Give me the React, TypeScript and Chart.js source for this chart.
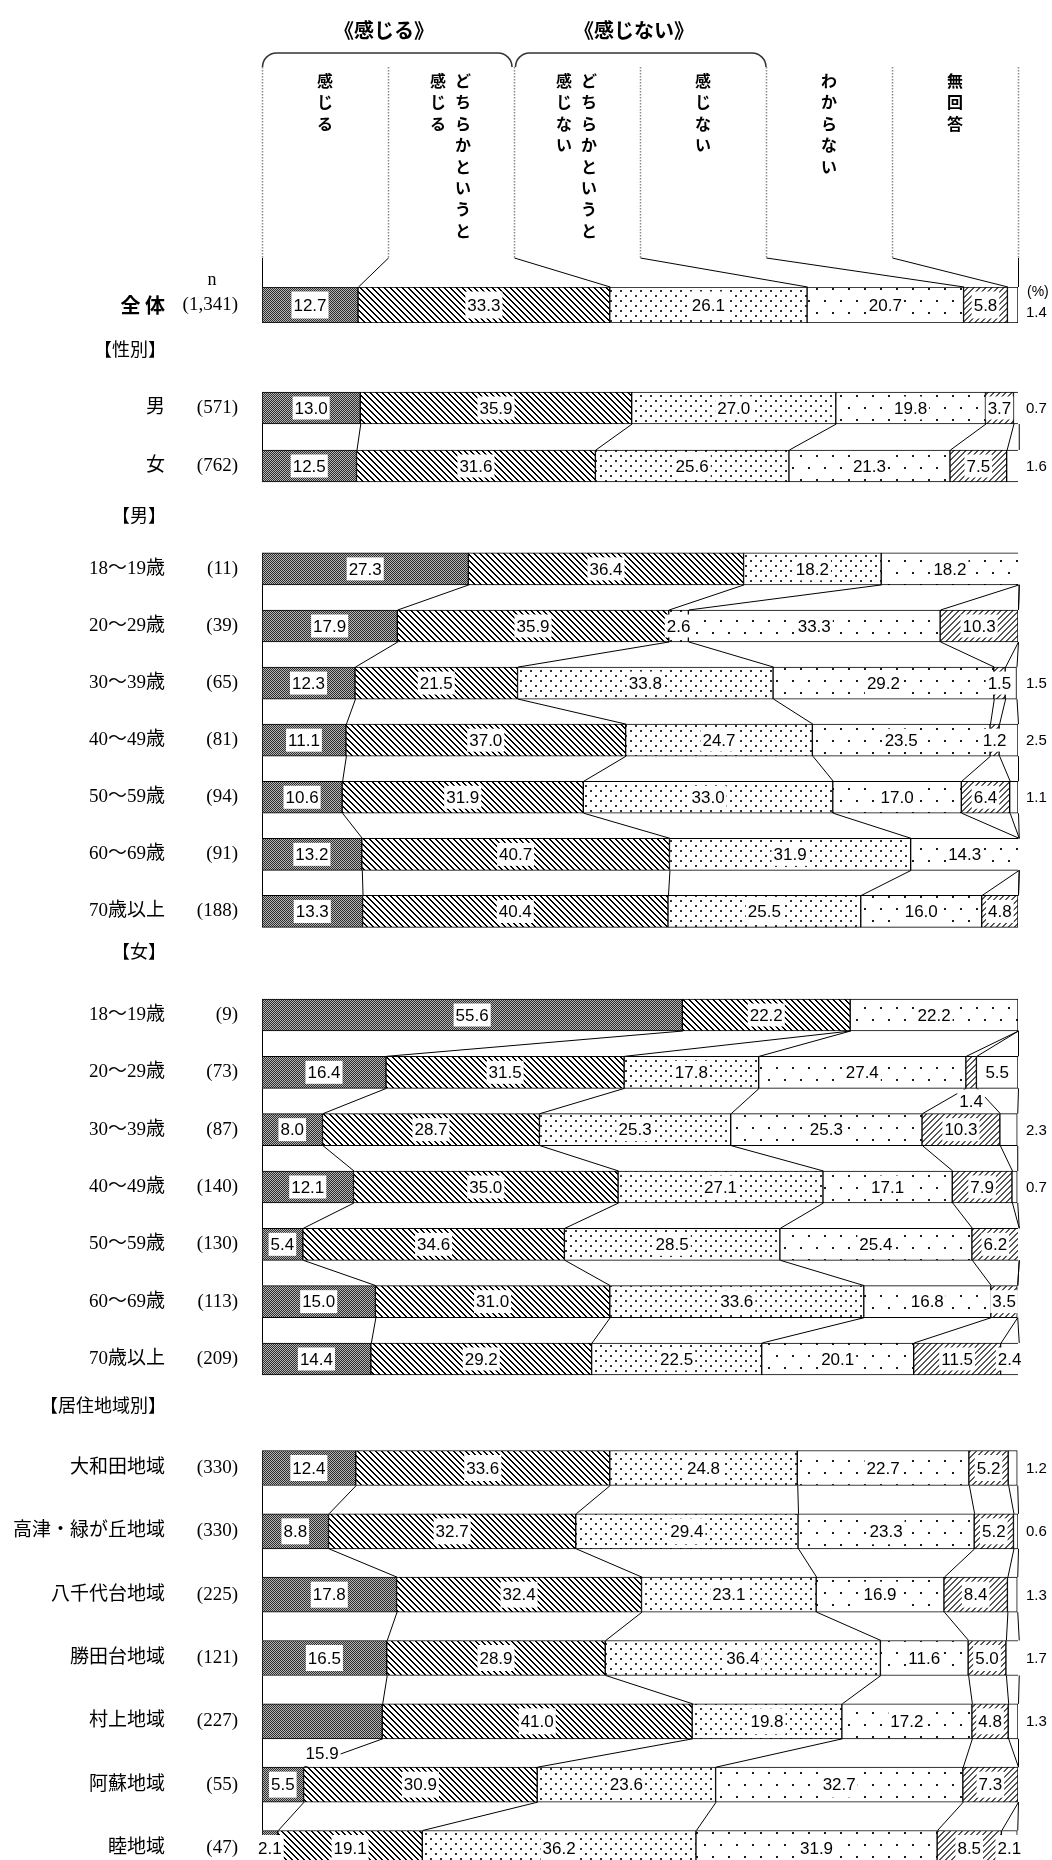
import React, { useEffect, useRef } from "react";
import { Chart, registerables } from "chart.js";

Chart.register(...registerables);

// ---------------- DATA ----------------
const segmentNames = [
  "感じる",
  "どちらかというと感じる",
  "どちらかというと感じない",
  "感じない",
  "わからない",
  "無回答",
];

const headerTitles = ["《感じる》", "《感じない》"];
// column captions (vertical text, right line first)
const columnCaptions = [
  ["感じる"],
  ["どちらかというと", "感じる"],
  ["どちらかというと", "感じない"],
  ["感じない"],
  ["わからない"],
  ["無回答"],
];

const totalNames = ["全 体"];
const totalN = ["(1,341)"];
const totalValues = [[12.7, 33.3, 26.1, 20.7, 5.8, 1.4]];

const genderNames = ["男", "女"];
const genderN = ["(571)", "(762)"];
const genderValues = [
  [13.0, 35.9, 27.0, 19.8, 3.7, 0.7],
  [12.5, 31.6, 25.6, 21.3, 7.5, 1.6],
];

const ageNames = ["18～19歳", "20～29歳", "30～39歳", "40～49歳", "50～59歳", "60～69歳", "70歳以上"];
const maleN = ["(11)", "(39)", "(65)", "(81)", "(94)", "(91)", "(188)"];
const maleValues = [
  [27.3, 36.4, 18.2, 18.2, 0, 0],
  [17.9, 35.9, 2.6, 33.3, 10.3, 0],
  [12.3, 21.5, 33.8, 29.2, 1.5, 1.5],
  [11.1, 37.0, 24.7, 23.5, 1.2, 2.5],
  [10.6, 31.9, 33.0, 17.0, 6.4, 1.1],
  [13.2, 40.7, 31.9, 14.3, 0, 0],
  [13.3, 40.4, 25.5, 16.0, 4.8, 0],
];
const femaleN = ["(9)", "(73)", "(87)", "(140)", "(130)", "(113)", "(209)"];
const femaleValues = [
  [55.6, 22.2, 0, 22.2, 0, 0],
  [16.4, 31.5, 17.8, 27.4, 1.4, 5.5],
  [8.0, 28.7, 25.3, 25.3, 10.3, 2.3],
  [12.1, 35.0, 27.1, 17.1, 7.9, 0.7],
  [5.4, 34.6, 28.5, 25.4, 6.2, 0],
  [15.0, 31.0, 33.6, 16.8, 3.5, 0],
  [14.4, 29.2, 22.5, 20.1, 11.5, 2.4],
];

const regionNames = ["大和田地域", "高津・緑が丘地域", "八千代台地域", "勝田台地域", "村上地域", "阿蘇地域", "睦地域"];
const regionN = ["(330)", "(330)", "(225)", "(121)", "(227)", "(55)", "(47)"];
const regionValues = [
  [12.4, 33.6, 24.8, 22.7, 5.2, 1.2],
  [8.8, 32.7, 29.4, 23.3, 5.2, 0.6],
  [17.8, 32.4, 23.1, 16.9, 8.4, 1.3],
  [16.5, 28.9, 36.4, 11.6, 5.0, 1.7],
  [15.9, 41.0, 19.8, 17.2, 4.8, 1.3],
  [5.5, 30.9, 23.6, 32.7, 7.3, 0],
  [2.1, 19.1, 36.2, 31.9, 8.5, 2.1],
];

// ---------------- STYLE ----------------
const FONT_NUM = '"Liberation Sans", Arial, sans-serif';
const FONT_ROW = '"Liberation Serif", "Noto Sans CJK JP", serif';
const FONT_JP = '"Noto Sans CJK JP", sans-serif';

type Spec = {
  key: string;
  title: string | null;
  titleY: number;
  names: string[];
  ns: string[];
  values: number[][];
  top: number;
  height: number;
  firstCenter: number;
  spacing: number;
  thickness: number;
  header?: boolean;
  boldName?: boolean;
  outside: string[];
  below: string[];
};

const sections: Spec[] = [
  { key: "total", title: null, titleY: 0, names: totalNames, ns: totalN, values: totalValues, top: 0, height: 335, firstCenter: 305, spacing: 36, thickness: 36, header: true, boldName: true, outside: ["0:5"], below: [] },
  { key: "gender", title: "【性別】", titleY: 351, names: genderNames, ns: genderN, values: genderValues, top: 335, height: 165, firstCenter: 408, spacing: 58, thickness: 32, outside: ["0:5", "1:5"], below: [] },
  { key: "male", title: "【男】", titleY: 517, names: ageNames, ns: maleN, values: maleValues, top: 500, height: 440, firstCenter: 569, spacing: 57.33, thickness: 32, outside: ["2:5", "3:5", "4:5"], below: [] },
  { key: "female", title: "【女】", titleY: 953, names: ageNames, ns: femaleN, values: femaleValues, top: 935, height: 455, firstCenter: 1015, spacing: 57.33, thickness: 32, outside: ["2:5", "3:5"], below: ["1:4"] },
  { key: "region", title: "【居住地域別】", titleY: 1407, names: regionNames, ns: regionN, values: regionValues, top: 1388, height: 502, firstCenter: 1468, spacing: 63.33, thickness: 35, outside: ["0:5", "1:5", "2:5", "3:5", "4:5"], below: ["4:0"] },
];

// ---------------- PATTERNS ----------------
function makeTile(w: number, h: number, fill: (x: number, y: number) => string | null) {
  const c = document.createElement("canvas");
  c.width = w;
  c.height = h;
  const g = c.getContext("2d")!;
  g.fillStyle = "#fff";
  g.fillRect(0, 0, w, h);
  for (let y = 0; y < h; y++) {
    for (let x = 0; x < w; x++) {
      const col = fill(x, y);
      if (col) {
        g.fillStyle = col;
        g.fillRect(x, y, 1, 1);
      }
    }
  }
  return g.createPattern(c, "repeat")!;
}

let patternCache: any[] | null = null;
function getPatterns() {
  if (patternCache) return patternCache;
  patternCache = [
    makeTile(2, 2, (x, y) => ((x + y) % 2 === 0 ? "#2e2e2e" : "#b4b4b4")),
    makeTile(6, 6, (x, y) => ((((x - y) % 6) + 6) % 6 < 2 ? "#000" : null)),
    makeTile(10, 10, (x, y) => ((x < 2 && y < 2) || (x >= 5 && x < 7 && y >= 5 && y < 7) ? "#333" : null)),
    makeTile(16, 24, (x, y) => ((x < 2 && y < 2) || (x >= 8 && x < 10 && y >= 12 && y < 14) ? "#1a1a1a" : null)),
    makeTile(6, 6, (x, y) => ((x + y) % 6 < 2 ? "#555" : null)),
    "#ffffff",
  ];
  return patternCache;
}

const cum = (row: number[], k: number) => row.slice(0, k).reduce((a, b) => a + b, 0);

function drawHeader(ctx: CanvasRenderingContext2D, xs: any, barTop: number, firstRow: number[]) {
  const colXs = [0, 1, 2, 3, 4, 5, 6].map((k) => xs.getPixelForValue((k * 100) / 6));
  const bracketTop = 53;
  const bracketBottom = 67;
  const guideBottom = 258;

  // titles
  ctx.fillStyle = "#000";
  ctx.textAlign = "center";
  ctx.textBaseline = "middle";
  ctx.font = `bold 20px ${FONT_JP}`;
  ctx.fillText(headerTitles[0], (colXs[0] + colXs[2]) / 2 - 4, 30);
  ctx.fillText(headerTitles[1], (colXs[2] + colXs[4]) / 2 - 6, 30);

  // brackets
  ctx.strokeStyle = "#333";
  ctx.lineWidth = 1.5;
  const bracket = (x0: number, x1: number) => {
    const r = 14;
    ctx.beginPath();
    ctx.moveTo(x0, bracketBottom);
    ctx.arcTo(x0, bracketTop, x0 + r, bracketTop, r);
    ctx.arcTo(x1, bracketTop, x1, bracketBottom, r);
    ctx.lineTo(x1, bracketBottom);
    ctx.stroke();
  };
  bracket(colXs[0] + 0.5, colXs[2] - 2);
  bracket(colXs[2] + 1.5, colXs[4]);

  // dotted guides
  ctx.save();
  ctx.strokeStyle = "#8a8a8a";
  ctx.lineWidth = 1.5;
  ctx.setLineDash([1.5, 1.5]);
  colXs.forEach((x) => {
    ctx.beginPath();
    ctx.moveTo(x + 0.5, bracketBottom);
    ctx.lineTo(x + 0.5, guideBottom);
    ctx.stroke();
  });
  ctx.restore();

  // connectors to first bar
  ctx.strokeStyle = "#000";
  ctx.lineWidth = 1;
  colXs.forEach((x, k) => {
    ctx.beginPath();
    ctx.moveTo(x + 0.5, guideBottom);
    ctx.lineTo(xs.getPixelForValue(cum(firstRow, k)) + 0.5, barTop);
    ctx.stroke();
  });

  // column captions (vertical)
  ctx.fillStyle = "#000";
  ctx.font = `bold 16px ${FONT_JP}`;
  ctx.textAlign = "center";
  ctx.textBaseline = "middle";
  const step = 21.4;
  columnCaptions.forEach((lines, j) => {
    const cx = (colXs[j] + colXs[j + 1]) / 2;
    lines.forEach((line, li) => {
      const lx = lines.length === 1 ? cx : cx + (li === 0 ? 12 : -13);
      Array.from(line).forEach((ch, ci) => {
        ctx.fillText(ch, lx, 81 + ci * step);
      });
    });
  });

  // n and (%)
  ctx.font = `18px ${FONT_ROW}`;
  ctx.fillText("n", 212, 280);
  ctx.textAlign = "left";
  ctx.font = `14px ${FONT_NUM}`;
  ctx.fillText("(%)", xs.right + 9, barTop + 5);
}

function makePlugin(spec: Spec) {
  return {
    id: "sec_" + spec.key,
    afterDatasetsDraw(chart: any) {
      const ctx: CanvasRenderingContext2D = chart.ctx;
      const xs = chart.scales.x;
      const ys = chart.scales.y;
      const th = spec.thickness;
      ctx.save();

      // connectors between consecutive bars
      ctx.strokeStyle = "#000";
      ctx.lineWidth = 1;
      for (let i = 0; i < spec.values.length - 1; i++) {
        const yA = ys.getPixelForValue(i) + th / 2;
        const yB = ys.getPixelForValue(i + 1) - th / 2;
        for (let k = 0; k <= 6; k++) {
          const xA = xs.getPixelForValue(cum(spec.values[i], k)) + 0.5;
          const xB = xs.getPixelForValue(cum(spec.values[i + 1], k)) + 0.5;
          ctx.beginPath();
          ctx.moveTo(xA, yA);
          ctx.lineTo(xB, yB);
          ctx.stroke();
        }
      }

      if (spec.header) drawHeader(ctx, xs, ys.getPixelForValue(0) - th / 2, spec.values[0]);

      // section title
      ctx.fillStyle = "#000";
      ctx.textBaseline = "middle";
      if (spec.title) {
        ctx.textAlign = "right";
        ctx.font = `18px ${FONT_ROW}`;
        ctx.fillText(spec.title, 166, spec.titleY - spec.top);
      }

      // row labels
      spec.names.forEach((name, i) => {
        const y = ys.getPixelForValue(i);
        ctx.textAlign = "right";
        ctx.font = spec.boldName ? `bold 20px ${FONT_JP}` : `19px ${FONT_ROW}`;
        ctx.fillText(name, 165, y);
        ctx.font = `19px ${FONT_ROW}`;
        ctx.fillText(spec.ns[i], 238, y);
      });

      // value labels
      spec.values.forEach((row, i) => {
        const cy = ys.getPixelForValue(i);
        row.forEach((v, s) => {
          if (!(v > 0)) return;
          const key = `${i}:${s}`;
          const text = v.toFixed(1);
          const x0 = xs.getPixelForValue(cum(row, s));
          const x1 = xs.getPixelForValue(cum(row, s + 1));
          const cx = (x0 + x1) / 2;
          let y = cy;
          if (spec.outside.includes(key)) {
            ctx.font = `15px ${FONT_NUM}`;
            ctx.textAlign = "left";
            ctx.fillStyle = "#000";
            ctx.fillText(text, xs.right + 8, y + (spec.header ? 8 : 1));
            return;
          }
          if (spec.below.includes(key)) y = cy + spec.spacing / 2;
          ctx.font = `17px ${FONT_NUM}`;
          const w = ctx.measureText(text).width;
          const bh = th - 9;
          ctx.fillStyle = "#fff";
          ctx.fillRect(cx - w / 2 - 2, y - bh / 2, w + 4, bh);
          ctx.fillStyle = "#000";
          ctx.textAlign = "center";
          ctx.fillText(text, cx, y + 1);
        });
      });

      ctx.restore();
    },
  };
}

function buildConfig(spec: Spec): any {
  const patterns = getPatterns();
  const n = spec.values.length;
  const areaTop = spec.firstCenter - spec.spacing / 2 - spec.top;
  const areaBottom = areaTop + n * spec.spacing;
  return {
    type: "bar",
    data: {
      labels: spec.names,
      datasets: segmentNames.map((name, s) => ({
        label: name,
        data: spec.values.map((r) => r[s]),
        backgroundColor: patterns[s],
        borderColor: "#000",
        borderWidth: 1,
        borderSkipped: false,
        barThickness: spec.thickness,
      })),
    },
    options: {
      indexAxis: "y",
      animation: false,
      responsive: false,
      maintainAspectRatio: false,
      events: [],
      layout: {
        padding: { left: 262, right: 34, top: areaTop, bottom: spec.height - areaBottom },
      },
      scales: {
        x: { stacked: true, min: 0, max: 100, display: false },
        y: { stacked: true, display: false },
      },
      plugins: { legend: { display: false }, tooltip: { enabled: false } },
    },
    plugins: [makePlugin(spec)],
  };
}

function SectionChart({ spec }: { spec: Spec }) {
  const ref = useRef<HTMLCanvasElement>(null);
  useEffect(() => {
    if (!ref.current) return;
    const chart = new Chart(ref.current, buildConfig(spec));
    return () => chart.destroy();
  }, [spec]);
  return (
    <canvas
      ref={ref}
      width={1052}
      height={spec.height}
      style={{ position: "absolute", left: 0, top: spec.top, width: 1052, height: spec.height }}
    />
  );
}

export default function App() {
  return (
    <div
      style={{
        position: "fixed",
        left: 0,
        top: 0,
        width: 1052,
        height: 1860,
        overflow: "hidden",
        background: "#fff",
      }}
    >
      {sections.map((s) => (
        <SectionChart key={s.key} spec={s} />
      ))}
    </div>
  );
}
